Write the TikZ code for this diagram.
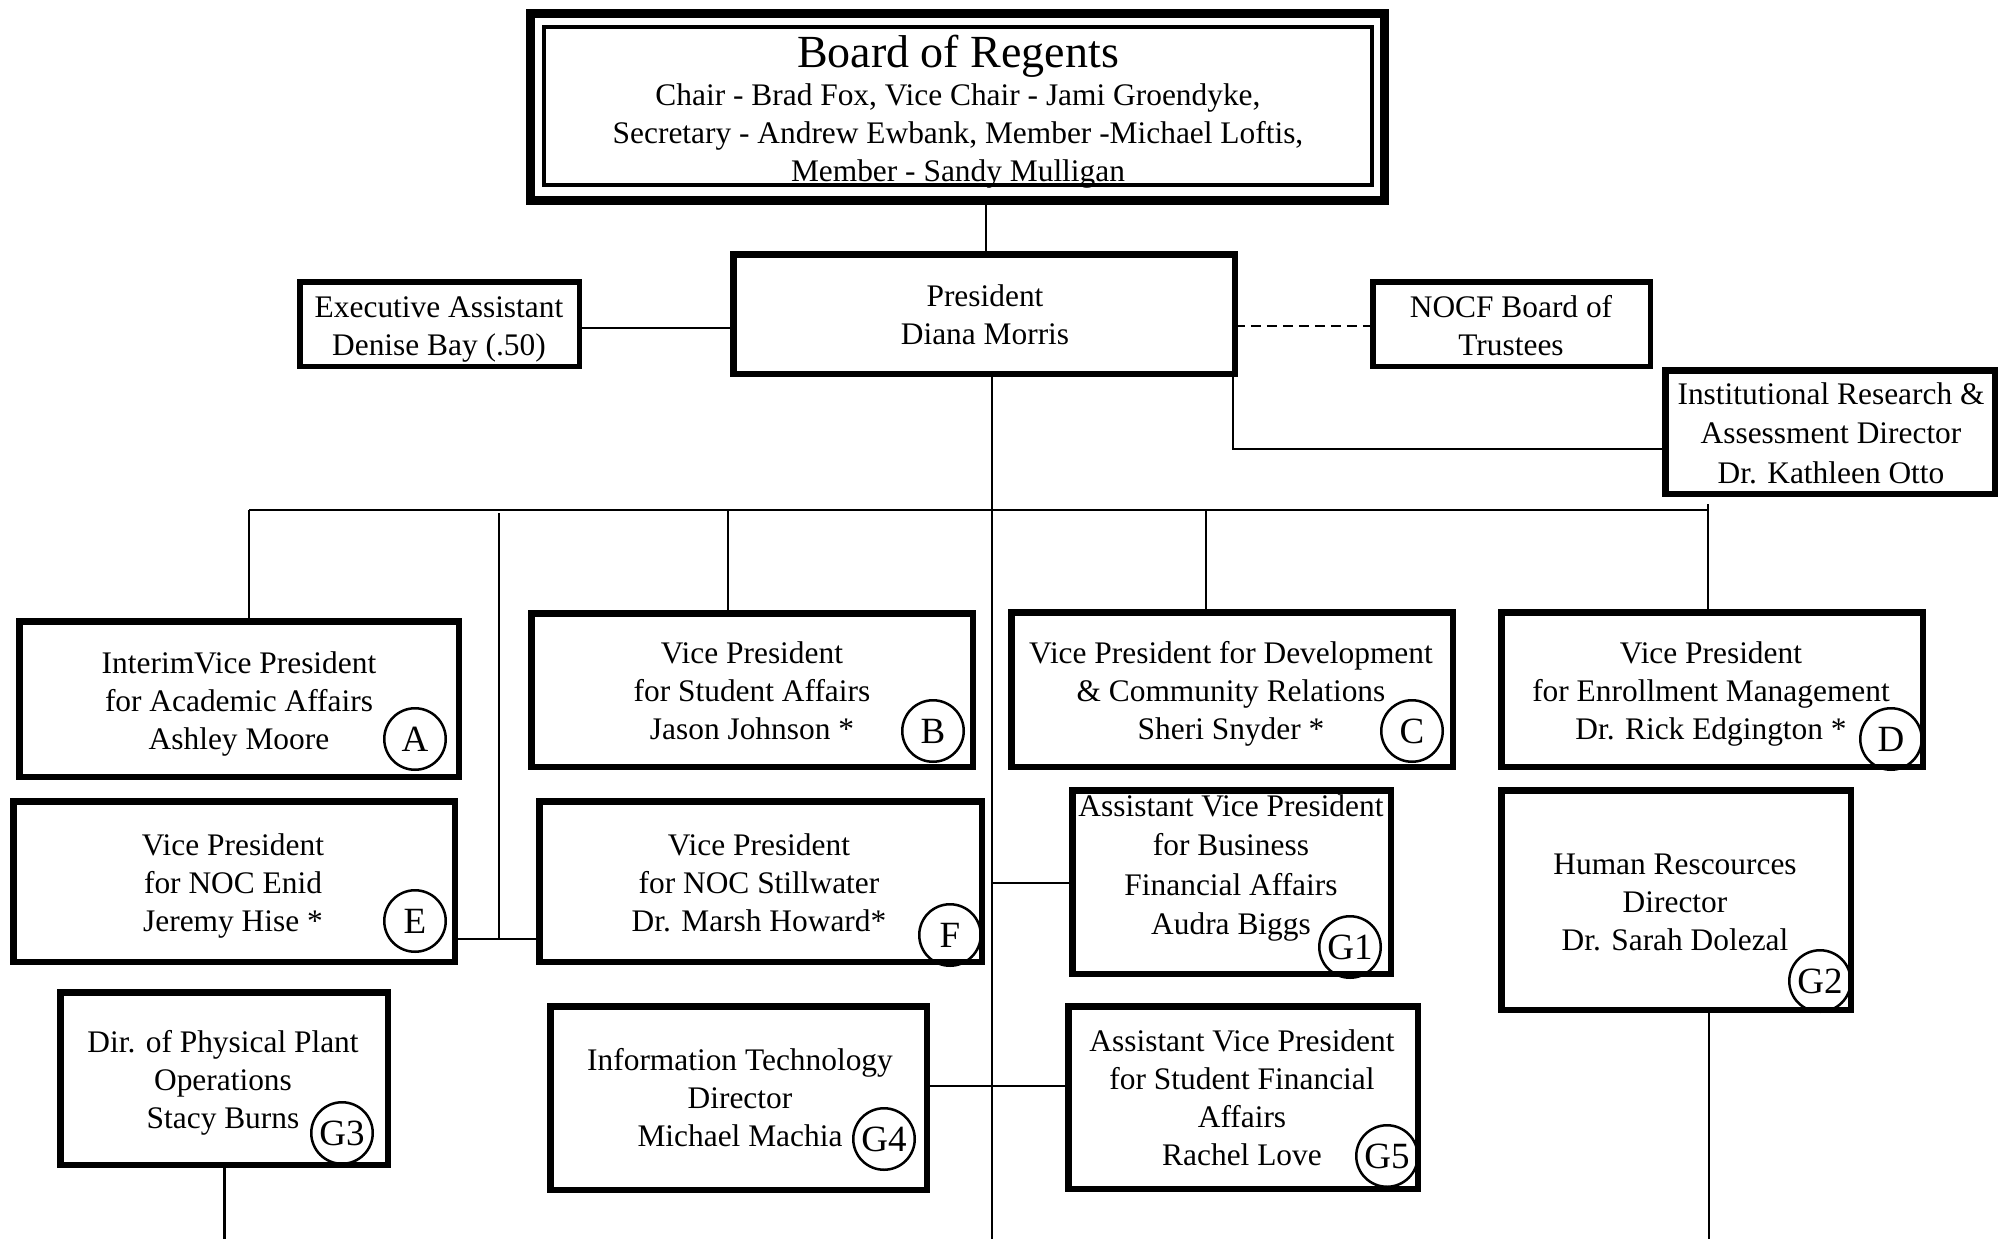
\documentclass[tikz,border=0pt]{standalone}
\usepackage{fontspec}
\setmainfont{Liberation Serif}
\newcommand{\ml}[1]{\begin{tabular}[t]{@{}c@{}}#1\end{tabular}}
\tikzset{
  bx/.style={draw, inner sep=0pt, outer sep=0pt},
  txt/.style={inner sep=0pt, anchor=base, font=\fontsize{31.4}{38}\selectfont},
  txtw/.style={inner sep=0pt, anchor=base, font=\fontsize{31.4}{39.5}\selectfont},
  circ/.style={draw, circle, line width=2.5pt, minimum size=61.5pt, inner sep=0pt, font=\fontsize{37}{40}\selectfont},
  conn/.style={line width=2.8pt},
}
\newcommand{\obox}[6]{%
  \node[bx, line width=#6pt, minimum width={(#4-#2-#6)*1pt}, minimum height={(#5-#3-#6)*1pt}] (#1) at ({(#2+#4)/2},{(#3+#5)/2}) {};}
\begin{document}
\begin{tikzpicture}[x=1pt,y=-1pt]
\fill[white] (0,0) rectangle (2005,1239);
\useasboundingbox (0,0) rectangle (2005,1239);

% boxes
\obox{board}{526}{9}{1389}{205}{9}
\obox{boardin}{541.5}{25}{1373.5}{187}{4}
\obox{pres}{730}{251}{1238}{377}{6.5}
\obox{Ex}{297}{279}{582}{369}{5.5}
\obox{N}{1370}{279}{1653}{369}{5.5}
\obox{I}{1662}{367}{1998}{497}{6.5}
\obox{A}{16}{618}{462}{780}{6.5}
\obox{B}{528}{610}{976}{770}{6.5}
\obox{C}{1008}{609}{1456}{770}{6.5}
\obox{D}{1498}{609}{1926}{770}{6.5}
\obox{E}{10}{798}{458}{965}{6.5}
\obox{F}{536}{798}{985}{965}{6.5}
\obox{G1}{1069}{787}{1394}{977}{6.5}
\obox{G2}{1498}{787}{1854}{1013}{6.5}
\obox{G3}{57}{989}{391}{1168}{6.5}
\obox{G4}{547}{1003}{930}{1193}{6.5}
\obox{G5}{1065}{1003}{1421}{1192}{6.5}

% texts
\node[inner sep=0pt, anchor=base, font=\fontsize{46}{50}\selectfont] (bt) at (958,67) {Board of Regents};
\node[txt] (bm) at (958,105) {\ml{Chair - Brad Fox, Vice Chair - Jami Groendyke,\\ Secretary - Andrew Ewbank, Member -Michael Loftis,\\ Member - Sandy Mulligan}};
\node[txt] (prest) at (985,306) {\ml{President\\Diana Morris}};
\node[txt] (Ext) at (439,317) {\ml{Executive Assistant\\Denise Bay (.50)}};
\node[txt] (Nt) at (1511,317) {\ml{NOCF Board of\\Trustees}};
\node[txtw] (It) at (1831,404) {\ml{Institutional Research \&\\Assessment Director\\Dr. Kathleen Otto}};
\node[txt] (At) at (239,673) {\ml{InterimVice President\\for Academic Affairs\\Ashley Moore}};
\node[txt] (Bt) at (752,663) {\ml{Vice President\\for Student Affairs\\Jason Johnson *}};
\node[txt] (Ct) at (1231,663) {\ml{Vice President for Development\\\& Community Relations\\Sheri Snyder *}};
\node[txt] (Dt) at (1711,663) {\ml{Vice President\\for Enrollment Management\\Dr. Rick Edgington *}};
\node[txt] (Et) at (233,855) {\ml{Vice President\\for NOC Enid\\Jeremy Hise *}};
\node[txt] (Ft) at (759,855) {\ml{Vice President\\for NOC Stillwater\\Dr. Marsh Howard*}};
\node[txtw] (G1t) at (1231,816) {\ml{Assistant Vice President\\for Business\\Financial Affairs\\Audra Biggs}};
\node[txt] (G2t) at (1675,874) {\ml{Human Rescources\\Director\\Dr. Sarah Dolezal}};
\node[txt] (G3t) at (223,1052) {\ml{Dir. of Physical Plant\\Operations\\Stacy Burns}};
\node[txt] (G4t) at (740,1070) {\ml{Information Technology\\Director\\Michael Machia}};
\node[txt] (G5t) at (1242,1051) {\ml{Assistant Vice President\\for Student Financial\\Affairs\\Rachel Love}};

% circles
\node[circ] (cA) at (415,739) {A};
\node[circ] (cB) at (933,731) {B};
\node[circ] (cC) at (1412,731) {C};
\node[circ] (cD) at (1891,739) {D};
\node[circ] (cE) at (415,921) {E};
\node[circ] (cF) at (950,935) {F};
\node[circ] (cG1) at (1350,947) {G1};
\node[circ] (cG2) at (1820,981) {G2};
\node[circ] (cG3) at (342,1133) {G3};
\node[circ] (cG4) at (884,1139) {G4};
\node[circ] (cG5) at (1387,1156) {G5};

% connectors
\coordinate (bx) at (986,0);
\draw[conn] (board.south -| bx) -- (pres.north -| bx);
\coordinate (exj) at (0,328);
\draw[conn] (Ex.east |- exj) -- (pres.west |- exj);
\coordinate (nj) at (0,326);
\draw[conn, dash pattern=on 10pt off 6pt] (pres.east |- nj) -- (N.west |- nj);
\coordinate (ij) at (1233,449);
\draw[conn] (pres.south -| ij) -- (ij) -- (I.west |- ij);
\coordinate (mx) at (992,1239);
\draw[conn] (pres.south -| mx) -- (mx);
\coordinate (busL) at (249,510);
\coordinate (busR) at (1709,510);
\draw[conn] (busL) -- (busR);
\draw[conn] (busL) -- (busL |- A.north);
\coordinate (bB) at (728,510);
\draw[conn] (bB) -- (bB |- B.north);
\coordinate (bC) at (1206,510);
\draw[conn] (bC) -- (bC |- C.north);
\coordinate (bD) at (1708,504);
\draw[conn] (bD) -- (bD |- D.north);
\coordinate (ef) at (499,513);
\coordinate (efj) at (499,939);
\draw[conn] (ef) -- (efj);
\draw[conn] (E.east |- efj) -- (F.west |- efj);
\coordinate (g1j) at (992,883);
\draw[conn] (g1j) -- (G1.west |- g1j);
\coordinate (g45) at (992,1086);
\draw[conn] (G4.east |- g45) -- (G5.west |- g45);
\coordinate (g2b) at (1709,1239);
\draw[conn] (G2.south -| g2b) -- (g2b);
\coordinate (g3b) at (224.5,1239);
\draw[conn] (G3.south -| g3b) -- (g3b);
\end{tikzpicture}
\end{document}
